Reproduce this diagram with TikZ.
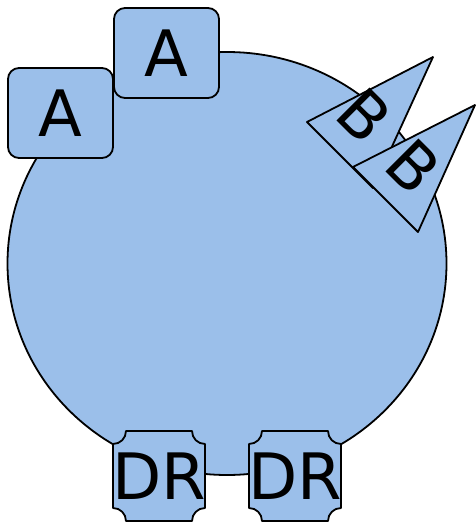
\documentclass[tikz,border=0pt]{standalone}
\usepackage{fontspec}
\setmainfont{DejaVu Sans}
\usetikzlibrary{shapes.geometric}
\definecolor{blobblue}{RGB}{155,191,234}
\begin{document}
\begin{tikzpicture}[x=1pt,y=-1pt,
  shapefill/.style={fill=blobblue, draw=black, line width=1.8pt, line join=round},
  lbl/.style={font=\fontsize{64}{70}\selectfont, inner sep=0pt, text=black},
  abox/.style={shapefill, rectangle, rounded corners=11pt, minimum width=105pt,
    minimum height=90pt, inner sep=0pt, font=\fontsize{64}{70}\selectfont},
  plaque/.pic={
    \path[shapefill] (-33,-45) -- (33,-45)
      .. controls (33,-37.8) and (38.8,-32) .. (46,-32) -- (46,32)
      .. controls (38.8,32) and (33,37.8) .. (33,45) -- (-33,45)
      .. controls (-33,37.8) and (-38.8,32) .. (-46,32) -- (-46,-32)
      .. controls (-38.8,-32) and (-33,-37.8) .. (-33,-45) -- cycle;
  }]
\useasboundingbox (0,0) rectangle (475,525);

% main body
\node[shapefill, ellipse, minimum width=439pt, minimum height=423pt, inner sep=0pt]
  (body) at (227,263.5) {};

% two rounded boxes at the upper left
\node[abox] (a1) at (60.5,113) {A};
\node[abox] (a2) at (166.5,53) {A};

% two triangular flags at the upper right
\path[shapefill] (307,122) -- (433,57) -- (373,188) -- cycle;
\node[lbl, rotate=-45] (b1) at (365,116) {B};
\path[shapefill] (353,167) -- (475,105) -- (418,232) -- cycle;
\node[lbl, rotate=-45] (b2) at (414,167) {B};

% two plaques along the bottom
\pic at (159,476) {plaque};
\node[lbl] (dr1) at (159,476) {DR};
\pic at (295,476) {plaque};
\node[lbl] (dr2) at (295,476) {DR};
\end{tikzpicture}
\end{document}
